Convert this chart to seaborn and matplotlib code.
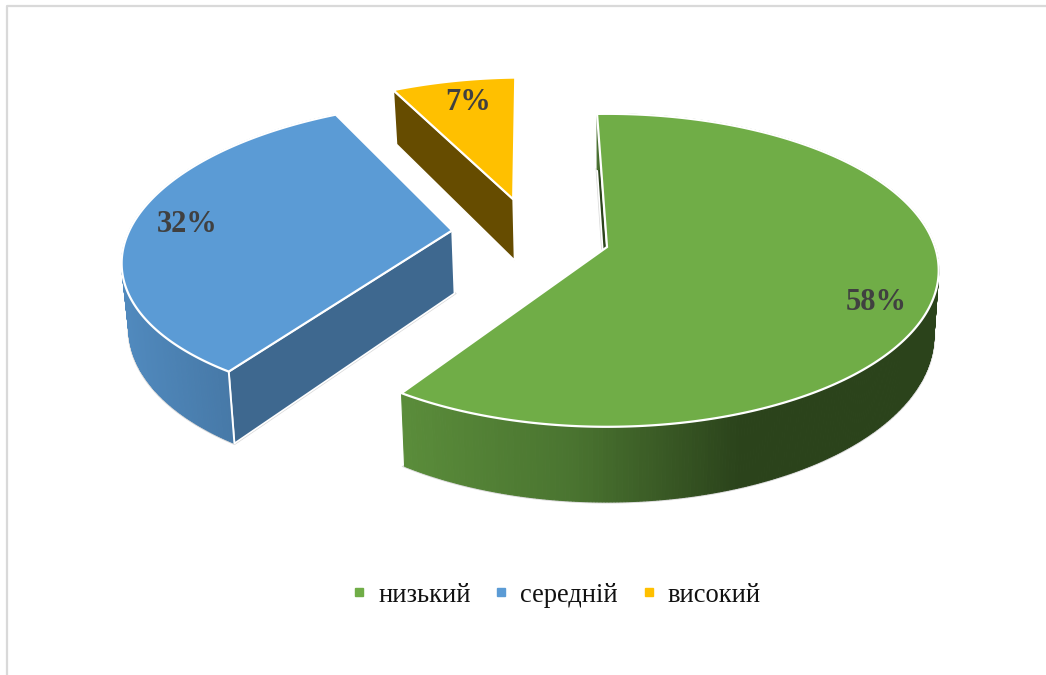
import numpy as np
import matplotlib
matplotlib.use("Agg")
import matplotlib.pyplot as plt
from matplotlib.lines import Line2D
import seaborn as sns

# values
categories = ["низький", "середній", "високий"]
shares = [58, 32, 7]

# styling per slice
top_colors = ["#70ad47", "#5b9bd5", "#ffc000"]
cut_colors = ["#2b431b", "#3e688f", "#664c00"]
wall_ramps = [["#5a8c3a", "#4a7430", "#2b431b"], ["#5089bd", "#4678a6"], ["#664c00", "#664c00"]]
ramp_spans = [(405, 740), (125, 234), (395, 515)]
explode_x = [0.0, -0.48, -0.30]
explode_y = [0.0, -0.11, -0.327]
label_nudge = [8.2, 0.2, 1.0]
label_radius = [0.85, 0.83, 0.80]

# fake 3D camera, in figure pixels
X0, Y0 = 607, 247
SX, SY = 328, 153
K = 0.149
DEPTH = 64
BOTTOM_SCALE = 0.985
START_DEG = -2


def project(x, y, down=False):
    x = np.asarray(x, dtype=float)
    y = np.asarray(y, dtype=float)
    d = 1 - K * y
    sx = SX * x / d
    sy = Y0 + SY * y / d
    if down:
        return X0 + sx * BOTTOM_SCALE, sy + DEPTH / d
    return X0 + sx, sy


def rim(ex, ey, deg):
    rad = np.radians(deg)
    return ex + np.sin(rad), ey - np.cos(rad)


sns.set_theme(style="white")
plt.rcParams["font.family"] = ["Liberation Serif", "DejaVu Serif"]

fig = plt.figure(figsize=(10.46, 6.75), dpi=100)
ax = fig.add_axes([0, 0, 1, 1])
ax.set_xlim(0, 1046)
ax.set_ylim(675, 0)
ax.axis("off")

# thin frame, only left and top are in view
ax.add_line(Line2D([7, 7, 1046], [675, 6, 6], color="#d9d9d9", lw=1.6))

edges = np.cumsum([0] + shares) / sum(shares) * 360 + START_DEG

# back slices first
for i in [2, 1, 0]:
    ex, ey = explode_x[i], explode_y[i]
    angles = np.linspace(edges[i], edges[i + 1], int((edges[i + 1] - edges[i]) * 2) + 1)
    rx, ry = rim(ex, ey, angles)
    tx, ty = project(rx, ry)
    bx, by = project(rx, ry, down=True)
    ax0, ay0 = project(ex, ey)
    ax1, ay1 = project(ex, ey, down=True)

    # the one cut face that shows
    ax.fill([ax0, tx[0], bx[0], ax1], [ay0, ty[0], by[0], ay1], facecolor=cut_colors[i],
            edgecolor="white", lw=1.2, zorder=i * -3 + 1)

    # the small slice turns its outer wall away from us
    if i < 2:
        # grey halo along the lower rim
        ax.fill(np.r_[ax1, bx, ax1], np.r_[ay1, by, ay1], color="#d9d9d9", lw=2.2, zorder=i * -3 + 0.5)

        # outer wall, strip by strip for the shading
        lo, hi = ramp_spans[i]
        ramp = sns.blend_palette(wall_ramps[i], 128)
        for a in range(len(angles) - 1):
            t = np.clip((tx[a] - lo) / (hi - lo), 0, 1)
            col = ramp[int(t * 127)]
            ax.fill([tx[a], tx[a + 1], bx[a + 1], bx[a]], [ty[a], ty[a + 1], by[a + 1], by[a]],
                    facecolor=col, edgecolor=col, lw=0.8, zorder=i * -3 + 1.5)
    if i == 1:
        ax.plot([tx[0], bx[0]], [ty[0], by[0]], color="white", lw=1.4, zorder=i * -3 + 1.6)

    # top face
    ax.fill(np.r_[ax0, tx], np.r_[ay0, ty], facecolor=top_colors[i], edgecolor="white", lw=1.6,
            joinstyle="miter", zorder=i * -3 + 2)

    # percent label
    mid = (edges[i] + edges[i + 1]) / 2 + label_nudge[i]
    rad = np.radians(mid)
    lx, ly = project(ex + label_radius[i] * np.sin(rad), ey - label_radius[i] * np.cos(rad))
    ax.text(lx, ly, f"{shares[i]}%", ha="center", va="center", fontsize=22, fontweight="bold",
            color="#404040", zorder=5)

handles = [Line2D([], [], ls="none", marker="s", ms=5.5, color=c) for c in top_colors]
ax.legend(handles, categories, loc="center", bbox_to_anchor=(556 / 1046, 1 - 595 / 675), ncol=3, frameon=False,
          fontsize=19.1, labelcolor="#111111", handlelength=0.6, handletextpad=0.41, columnspacing=0.86, borderpad=0)

fig.savefig("out.png", dpi=100)
